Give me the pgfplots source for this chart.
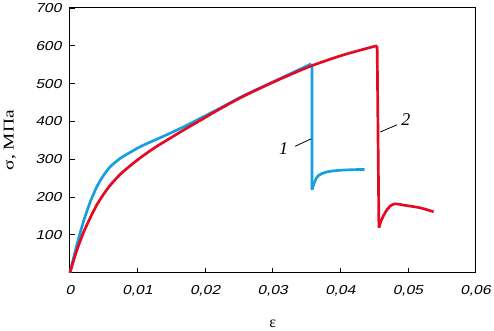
\documentclass[border=0pt]{standalone}
\usepackage{fontspec}
\setmainfont{Liberation Serif}
\setsansfont{Liberation Sans}
\newfontfamily\tickfont[FakeStretch=1.2, FakeSlant=0.22]{Liberation Sans}
\usepackage{pgfplots}
\pgfplotsset{compat=1.18}
\definecolor{cblue}{RGB}{20,160,225}
\definecolor{cred}{RGB}{228,10,35}
\begin{document}
\begin{tikzpicture}
\begin{axis}[
  scale only axis,
  width=406bp, height=265bp,
  xmin=0, xmax=0.06, ymin=0, ymax=700,
  scaled x ticks=false,
  xtick={0,0.01,0.02,0.03,0.04,0.05,0.06},
  xticklabels={0,{0,01},{0,02},{0,03},{0,04},{0,05},{0,06}},
  ytick={100,200,300,400,500,600,700},
  yticklabels={100,200,300,400,500,600,700},
  /pgf/number format/assume math mode=true,
  tick label style={font=\fontsize{13}{15}\tickfont},
  tick align=inside,
  major tick length=5bp,
  xtick pos=bottom, ytick pos=left,
  axis line style={line width=1pt},
  every tick/.style={black, line width=0.8pt},
  xticklabel style={yshift=-9.5bp},
  yticklabel style={xshift=-5bp},
  every axis x label/.style={at={(axis description cs:0.5,0)}, anchor=center, yshift=-51bp},
  every axis y label/.style={at={(axis description cs:0,0.5)}, rotate=90, anchor=center, yshift=60bp},
  xlabel={\fontsize{16}{18}\selectfont ε},
  ylabel={\fontsize{15}{17}\selectfont\addfontfeature{FakeStretch=1.3}σ, МПа},
  clip=false,
]
\addplot[cblue, line width=2.7pt, smooth, tension=0.4] coordinates {
(0,0) (0.001,72) (0.002,135) (0.003,187) (0.004,228) (0.005,258) (0.006,281) (0.0075,303)
(0.009,319) (0.0105,334) (0.0125,350) (0.0145,366) (0.017,387) (0.0195,410) (0.022,433)
(0.0256,467) (0.0306,509) (0.0357,552)
};
\addplot[cblue, line width=2.7pt] coordinates {(0.0357,552) (0.0358,540) (0.0358,219)};
\addplot[cblue, line width=2.7pt, smooth, tension=0.6] coordinates {
(0.0358,219) (0.0362,240) (0.0367,256) (0.0379,266) (0.0395,270) (0.0414,272) (0.0436,273)
};
\addplot[cred, line width=2.7pt, smooth, tension=0.4] coordinates {
(0,0) (0.001,58) (0.002,106) (0.003,145) (0.004,180) (0.005,208) (0.006,232) (0.0075,261)
(0.009,284) (0.0105,305) (0.0125,330) (0.0145,352) (0.017,379) (0.0195,405) (0.022,431)
(0.0256,466) (0.0306,508) (0.0356,546) (0.0405,576) (0.0454,600)
};
\addplot[cred, line width=2.7pt] coordinates {(0.0454,600) (0.04545,588) (0.0457,119)};
\addplot[cred, line width=2.7pt, smooth, tension=0.6] coordinates {
(0.0457,119) (0.0461,140) (0.0466,158) (0.0473,175) (0.0481,182) (0.0492,179) (0.0503,176) (0.0519,171) (0.0538,161)
};
\draw[line width=0.8pt] (axis cs:0.0333,334) -- (axis cs:0.0357,354);
\draw[line width=0.8pt] (axis cs:0.0459,372) -- (axis cs:0.0484,391);
\node[font=\fontsize{18}{20}\selectfont\itshape] at (axis cs:0.0316,328) {1};
\node[font=\fontsize{18}{20}\selectfont\itshape] at (axis cs:0.0497,405) {2};
\end{axis}
\path (current axis.south west) ++(-70bp,-57bp) rectangle ([shift={(18bp,6bp)}]current axis.north east);
\end{tikzpicture}
\end{document}
